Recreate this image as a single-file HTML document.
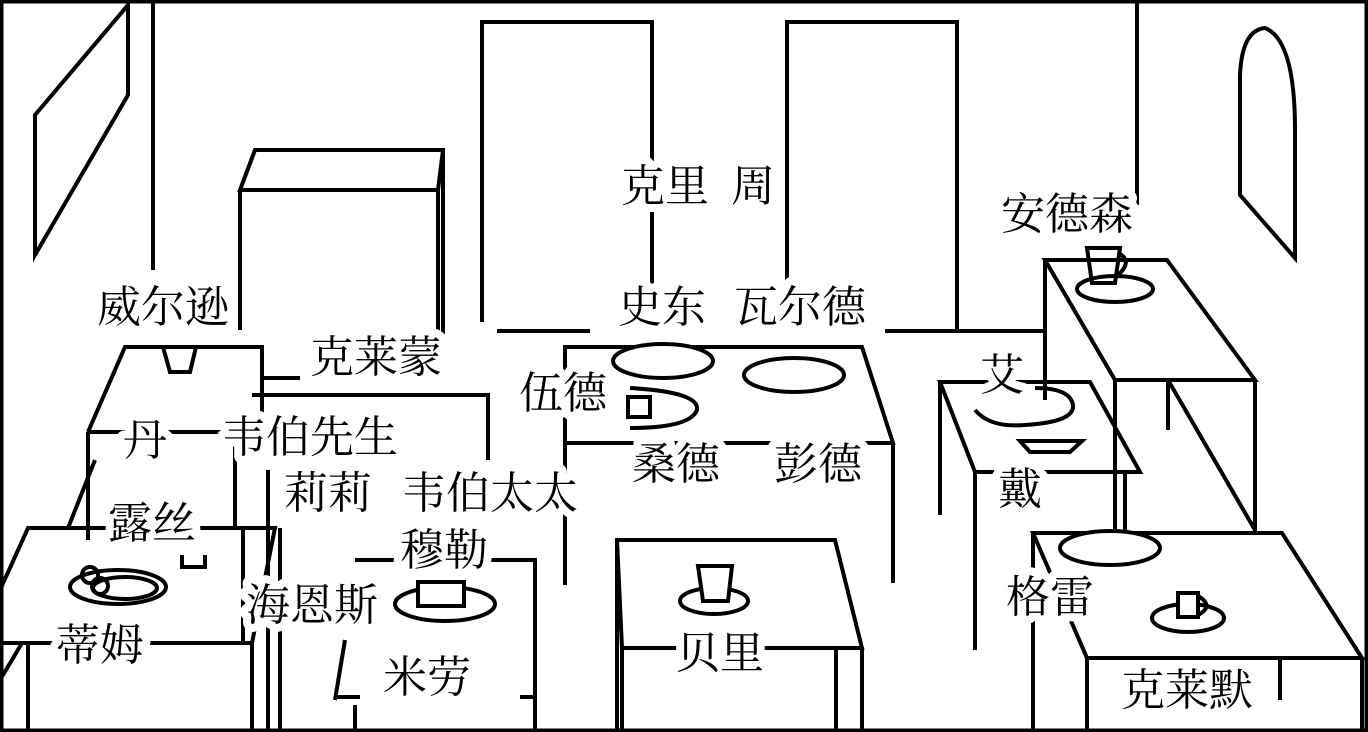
<!DOCTYPE html>
<html><head><meta charset="utf-8"><style>
html,body{margin:0;padding:0;background:#fff}
svg{display:block}
text{font-family:"Liberation Serif","Noto Serif CJK SC","Noto Sans CJK SC",serif;font-size:44px;text-anchor:middle;fill:#000;stroke:#fff;stroke-width:16px;paint-order:stroke;stroke-linejoin:round}
</style></head><body>
<svg width="1368" height="732" viewBox="0 0 1368 732" xmlns="http://www.w3.org/2000/svg">
<g fill="none" stroke="#000" stroke-width="4">
<rect x="1.5" y="1.5" width="1365" height="729"/>
<!-- left window -->
<polygon points="35,115 128,5 128,95 35,255"/>
<line x1="153" y1="0" x2="153" y2="270"/>
<!-- cabinet -->
<polygon points="255,150 443,150 438,190 240,190"/>
<line x1="240" y1="190" x2="240" y2="330"/>
<line x1="438" y1="190" x2="438" y2="345"/>
<line x1="443" y1="150" x2="443" y2="340"/>
<!-- doors -->
<polyline points="482,322 482,22 652,22 652,322"/>
<polyline points="787,322 787,22 957,22 957,331"/>
<line x1="497" y1="331" x2="590" y2="331"/>
<line x1="885" y1="331" x2="1045" y2="331"/>
<!-- right wall -->
<line x1="1137" y1="0" x2="1137" y2="205"/>
<path d="M1240,195 L1240,75 Q1242,30 1265,28 Q1295,40 1295,130 L1295,258 Z"/>
<!-- back right table -->
<polygon points="1045,260 1167,260 1255,380 1115,380"/>
<line x1="1045" y1="260" x2="1045" y2="400"/>
<line x1="1115" y1="380" x2="1115" y2="535"/>
<line x1="1168" y1="380" x2="1168" y2="430"/>
<line x1="1255" y1="380" x2="1255" y2="535"/>
<line x1="1168" y1="380" x2="1255" y2="530"/>
<ellipse cx="1115" cy="289" rx="38" ry="13"/>
<path d="M1087,248 L1120,248 L1115,283 L1092,283 Z"/>
<path d="M1120,254 Q1133,262 1117,276"/>
<!-- mid right table -->
<polygon points="940,382 1090,382 1140,472 975,472"/>
<line x1="940" y1="382" x2="940" y2="515"/>
<line x1="975" y1="472" x2="975" y2="650"/>
<line x1="1125" y1="472" x2="1125" y2="535"/>
<path d="M975,410 Q990,428 1025,425 Q1075,422 1073,405 Q1070,388 1035,388"/>
<polygon points="1020,441 1082,441 1070,452 1030,452"/>
<!-- front right table -->
<polygon points="1033,533 1282,533 1362,658 1087,658"/>
<line x1="1033" y1="533" x2="1033" y2="732"/>
<line x1="1087" y1="658" x2="1087" y2="732"/>
<line x1="1280" y1="658" x2="1280" y2="700"/>
<line x1="1362" y1="658" x2="1362" y2="732"/>
<ellipse cx="1110" cy="548" rx="50" ry="17" fill="#fff"/>
<ellipse cx="1188" cy="618" rx="36" ry="14"/>
<rect x="1178" y="593" width="20" height="24" fill="#fff"/>
<path d="M1198,596 Q1215,606 1198,615"/>
<!-- center table -->
<polyline points="565,443 565,347 862,347 893,443 565,443"/>
<line x1="565" y1="443" x2="565" y2="585"/>
<line x1="893" y1="443" x2="893" y2="583"/>
<ellipse cx="663" cy="361" rx="50" ry="17" fill="#fff"/>
<ellipse cx="794" cy="375" rx="50" ry="17"/>
<path d="M630,388 Q700,392 697,410 Q690,428 630,428"/>
<rect x="628" y="397" width="22" height="20"/>
<!-- Bailey table -->
<polygon points="617,540 835,540 862,648 622,648"/>
<line x1="617" y1="540" x2="617" y2="732"/>
<line x1="622" y1="648" x2="622" y2="732"/>
<line x1="836" y1="648" x2="836" y2="732"/>
<line x1="862" y1="648" x2="862" y2="732"/>
<ellipse cx="714" cy="601" rx="34" ry="13"/>
<path d="M698,566 L732,566 L728,601 L703,601 Z" fill="#fff"/>
<!-- Wilson table -->
<polyline points="88,432 125,347 262,347 262,430"/>
<path d="M163,347 L170,372 L190,372 L196,347"/>
<line x1="88" y1="432" x2="88" y2="540"/>
<line x1="88" y1="432" x2="300" y2="432"/>
<line x1="235" y1="432" x2="235" y2="530"/>
<line x1="68" y1="528" x2="95" y2="460"/>
<!-- Ruth / Tim table -->
<polyline points="0,590 28,528 275,528 252,643"/>
<line x1="0" y1="643" x2="252" y2="643"/>
<line x1="28" y1="643" x2="28" y2="732"/>
<line x1="252" y1="643" x2="252" y2="732"/>
<line x1="0" y1="680" x2="22" y2="643"/>
<path d="M182,555 L182,567 L205,567 L205,555"/>
<ellipse cx="118" cy="587" rx="48" ry="17"/>
<ellipse cx="125" cy="588" rx="32" ry="11"/>
<circle cx="90" cy="575" r="8"/><circle cx="100" cy="586" r="8"/>
<!-- Weber table -->
<polyline points="252,395 488,395 488,460"/>
<line x1="262" y1="378" x2="300" y2="378"/>
<line x1="268" y1="470" x2="268" y2="732"/>
<line x1="280" y1="528" x2="280" y2="732"/>
<line x1="243" y1="530" x2="243" y2="643"/>
<!-- Miller table -->
<polyline points="355,560 535,560 535,732"/>
<line x1="345" y1="640" x2="335" y2="700"/>
<line x1="335" y1="697" x2="360" y2="697"/>
<line x1="355" y1="705" x2="355" y2="732"/>
<line x1="520" y1="697" x2="535" y2="697"/>
<ellipse cx="445" cy="604" rx="50" ry="17"/>
<rect x="418" y="582" width="46" height="24" fill="#fff"/>
<line x1="565" y1="530" x2="565" y2="585"/>
</g>
<text x="665" y="201">克里</text>
<text x="753" y="201">周</text>
<text x="1067" y="229">安德森</text>
<text x="163" y="322">威尔逊</text>
<text x="662" y="322">史东</text>
<text x="800" y="322">瓦尔德</text>
<text x="376" y="372">克莱蒙</text>
<text x="563" y="408">伍德</text>
<text x="1002" y="390">艾</text>
<text x="145" y="455">丹</text>
<text x="310" y="452">韦伯先生</text>
<text x="676" y="479">桑德</text>
<text x="818" y="479">彭德</text>
<text x="328" y="508">莉莉</text>
<text x="490" y="508">韦伯太太</text>
<text x="1020" y="504">戴</text>
<text x="152" y="538">露丝</text>
<text x="444" y="565">穆勒</text>
<text x="312" y="620">海恩斯</text>
<text x="1050" y="612">格雷</text>
<text x="100" y="660">蒂姆</text>
<text x="720" y="668">贝里</text>
<text x="427" y="692">米劳</text>
<text x="1187" y="705">克莱默</text>
</svg>
</body></html>
